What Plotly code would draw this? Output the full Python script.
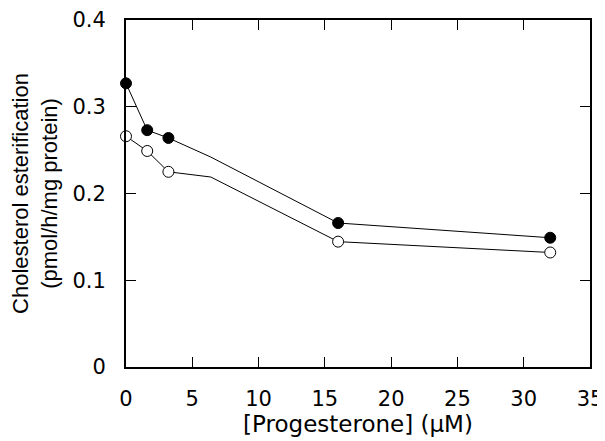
import plotly.graph_objects as go

# Data
progesterone = [0, 1.6, 3.2, 6.4, 16, 32]
filled_vals = [0.327, 0.273, 0.264, 0.242, 0.166, 0.149]
open_vals = [0.266, 0.249, 0.225, 0.219, 0.1445, 0.132]
has_marker = [True, True, True, False, True, True]

x_ticks = [0, 5, 10, 15, 20, 25, 30, 35]
y_ticks = [0, 0.1, 0.2, 0.3, 0.4]
y_tick_text = ["0", "0.1", "0.2", "0.3", "0.4"]

msize = [11 if m else 0 for m in has_marker]

fig = go.Figure()
fig.add_trace(go.Scatter(
    x=progesterone, y=open_vals, mode="lines+markers",
    line=dict(color="black", width=1),
    marker=dict(size=msize, color="white", opacity=1, line=dict(color="black", width=1)),
    showlegend=False, cliponaxis=False))
fig.add_trace(go.Scatter(
    x=progesterone, y=filled_vals, mode="lines+markers",
    line=dict(color="black", width=1),
    marker=dict(size=msize, color="black", opacity=1, line=dict(color="black", width=1)),
    showlegend=False, cliponaxis=False))

tick_font = dict(family="DejaVu Sans, sans-serif", size=21, color="black")
fig.update_layout(
    width=597, height=433,
    margin=dict(l=118, r=15, t=12, b=74),
    plot_bgcolor="white", paper_bgcolor="white",
    font=dict(family="Liberation Sans, Arial, sans-serif", size=21, color="black"),
    xaxis=dict(range=[0, 35], tickvals=x_ticks, ticks="inside", ticklen=10,
               tickcolor="black", tickwidth=1, showline=True, linecolor="black",
               linewidth=2, mirror="allticks", showgrid=False, zeroline=False,
               automargin=False, tickfont=tick_font,
               title=dict(text="[Progesterone] (μM)", standoff=0,
                          font=dict(family="DejaVu Sans, sans-serif", size=23, color="black")),
               ticklabelstandoff=12),
    yaxis=dict(range=[0, 0.4], tickvals=y_ticks, ticktext=y_tick_text,
               ticks="inside", ticklen=10,
               tickcolor="black", tickwidth=1, showline=True, linecolor="black",
               linewidth=2, mirror="allticks", showgrid=False, zeroline=False,
               automargin=False, tickfont=tick_font,
               title=dict(text="Cholesterol esterification<br>(pmol/h/mg protein)", standoff=12,
                          font=dict(size=22)),
               ticklabelstandoff=14),
)
fig.write_html("out.html")
